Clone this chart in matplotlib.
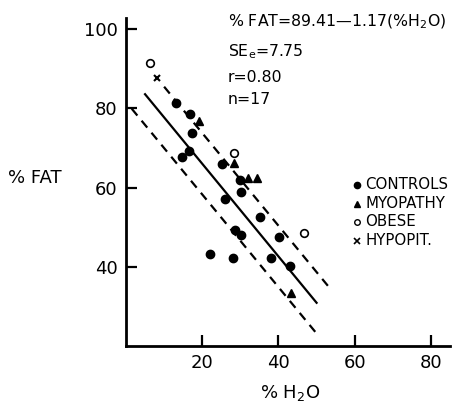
import matplotlib
matplotlib.use("Agg")
import matplotlib.pyplot as plt
import numpy as np

plt.rcParams['font.family'] = ['DejaVu Sans']
plt.rcParams['mathtext.default'] = 'regular'

# data (% H2O, % FAT)
controls_x = [13.1, 16.8, 17.3, 16.4, 14.8, 25.2, 29.9, 30.2, 26.1, 35.2, 28.7, 30.2, 40.1, 22.0, 28.0, 38.1, 43.1]
controls_y = [81.3, 78.5, 73.7, 69.1, 67.7, 65.9, 62.0, 59.0, 57.1, 52.6, 49.2, 47.9, 47.4, 43.3, 42.2, 42.1, 40.1]
myopathy_x = [19.2, 28.4, 32.1, 34.3, 43.2]
myopathy_y = [76.9, 66.2, 62.4, 62.4, 33.4]
obese_x = [6.3, 28.4, 46.8]
obese_y = [91.4, 68.8, 48.4]
hypopit_x = [8.2]
hypopit_y = [87.6]

# regression: %FAT = 89.41 - 1.17 (%H2O), SEe = 7.75
intercept = 89.41
slope = -1.17
see = 7.75
fit_range = [5, 50]
upper_range = [10, 54]
lower_range = [1.5, 50]

legend_labels = ['CONTROLS', 'MYOPATHY', 'OBESE', 'HYPOPIT.']

fig = plt.figure(figsize=(4.65, 4.08), dpi=100)
ax = fig.add_axes([126 / 465, 1 - 346 / 408, 324 / 465, 328 / 408])

xs = np.array(fit_range)
ax.plot(xs, intercept + slope * xs, color='black', lw=1.6)
xs = np.array(upper_range)
ax.plot(xs, intercept + slope * xs + see, color='black', lw=1.6, ls=(0, (4, 3)))
xs = np.array(lower_range)
ax.plot(xs, intercept + slope * xs - see, color='black', lw=1.6, ls=(0, (4, 3)))

ax.plot(controls_x, controls_y, 'o', color='black', ms=6, ls='none')
ax.plot(myopathy_x, myopathy_y, '^', color='black', ms=6, ls='none')
ax.plot(obese_x, obese_y, 'o', mfc='white', mec='black', mew=1.2, ms=5.5, ls='none')
ax.plot(hypopit_x, hypopit_y, 'x', color='black', ms=4.5, mew=1.5, ls='none')

ax.set_xlim(0, 85)
ax.set_ylim(20, 102.8)
ax.set_xticks([20, 40, 60, 80])
ax.set_yticks([40, 60, 80, 100])
ax.tick_params(direction='in', length=8, width=1.6, labelsize=13, pad=6)
for side in ['top', 'right']:
    ax.spines[side].set_visible(False)
for side in ['left', 'bottom']:
    ax.spines[side].set_linewidth(2)

fig.text(8 / 465, 1 - 178 / 408, '% FAT', fontsize=13, ha='left', va='center')
fig.text(290 / 465, 1 - 393 / 408, '% H$_2$O', fontsize=13, ha='center', va='center')

# equation block
fs = 11.3
fig.text(228 / 465, 1 - 22 / 408, '% FAT=89.41\u20141.17(%H$_2$O)', fontsize=fs, ha='left', va='center')
fig.text(228 / 465, 1 - 52 / 408, 'SE$_e$=7.75', fontsize=fs, ha='left', va='center')
fig.text(228 / 465, 1 - 77 / 408, 'r=0.80', fontsize=fs, ha='left', va='center')
fig.text(228 / 465, 1 - 100 / 408, 'n=17', fontsize=fs, ha='left', va='center')

# legend
markers = [dict(marker='o', color='black', ms=4.5),
           dict(marker='^', color='black', ms=4.5),
           dict(marker='o', mfc='white', mec='black', mew=1, ms=4),
           dict(marker='x', color='black', ms=4, mew=1.2)]
for i, (lab, mk) in enumerate(zip(legend_labels, markers)):
    yy = 1 - (185 + i * 18.5) / 408
    fig.lines.append(plt.Line2D([357 / 465], [yy], transform=fig.transFigure, ls='none', **mk))
    fig.text(365 / 465, yy, lab, fontsize=10.8, ha='left', va='center')

fig.savefig('out.png', dpi=100)
